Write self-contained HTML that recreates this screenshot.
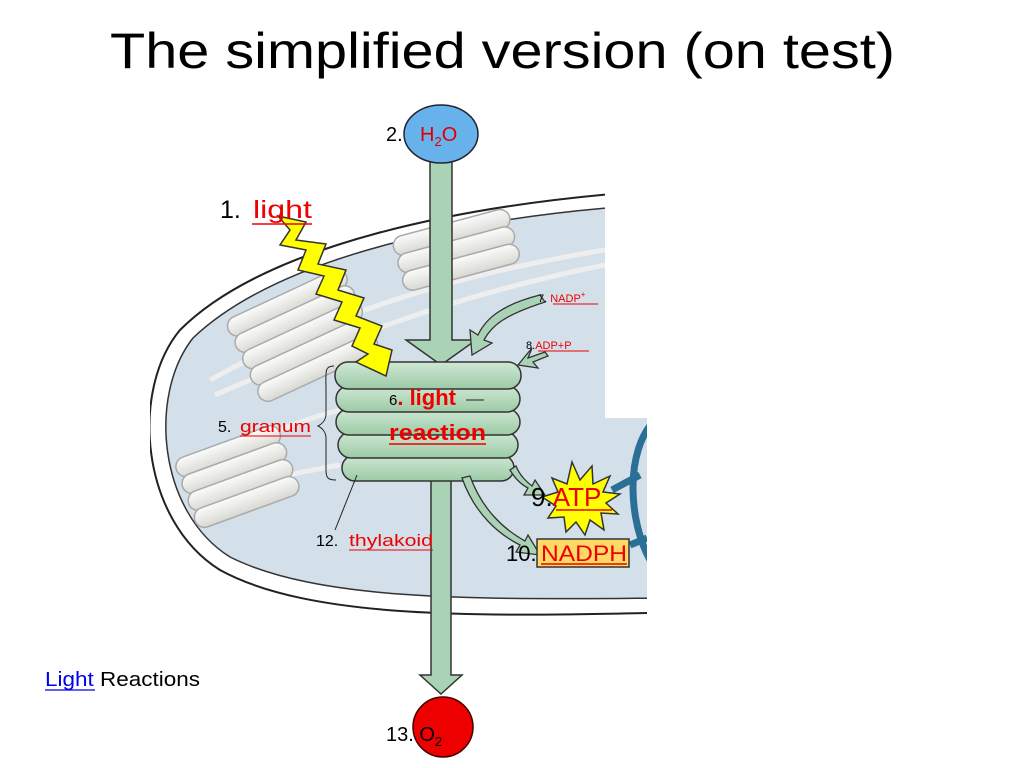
<!DOCTYPE html>
<html><head><meta charset="utf-8"><style>
body{margin:0;width:1024px;height:768px;background:#fff;overflow:hidden;font-family:"Liberation Sans",sans-serif}
svg{position:absolute;left:0;top:0}
text{font-family:"Liberation Sans",sans-serif}
</style></head><body>
<svg width="1024" height="768" viewBox="0 0 1024 768">
<defs>
<clipPath id="cp"><path d="M150 185 H605 V418 H647 V630 H150 Z"/></clipPath>
<linearGradient id="wg" x1="0" y1="0" x2="0" y2="1"><stop offset="0" stop-color="#fbfbfb"/><stop offset="1" stop-color="#d8d8d2"/></linearGradient>
<linearGradient id="gg" x1="0" y1="0" x2="0" y2="1"><stop offset="0" stop-color="#cfe8d4"/><stop offset="1" stop-color="#9ccaa6"/></linearGradient>
</defs>
<text x="110" y="68" font-size="50" fill="#000" textLength="785" lengthAdjust="spacingAndGlyphs">The simplified version (on test)</text>
<g clip-path="url(#cp)">
 <path d="M700 188 C450 200 260 250 180 330 C130 390 140 520 220 570 C320 625 520 615 700 612 V640 H140 V180 Z" fill="#fff"/>
 <path d="M700 188 C450 200 260 250 180 330 C130 390 140 520 220 570 C320 625 520 615 700 612" fill="none" stroke="#222" stroke-width="2"/>
 <path d="M700 202 C460 212 275 260 193 338 C148 395 158 512 230 557 C330 607 520 598 700 598 Z" fill="#d3e0ea" stroke="#333" stroke-width="1.5"/>
 <g stroke="#eee" stroke-width="5" fill="none">
  <path d="M210 380 C300 330 420 280 605 250"/>
  <path d="M215 395 C320 350 430 300 605 265"/>
  <path d="M190 470 C250 440 300 420 340 410"/>
  <path d="M200 500 C260 480 310 470 340 465"/>
 </g>
 <g fill="url(#wg)" stroke="#aaa" stroke-width="1.5">
  <g transform="rotate(-15 455 245)">
   <rect x="395" y="222" width="120" height="20" rx="10"/><rect x="395" y="240" width="120" height="20" rx="10"/><rect x="395" y="258" width="120" height="20" rx="10"/>
  </g>
  <g transform="rotate(-25 300 330)">
   <rect x="235" y="290" width="130" height="20" rx="10"/><rect x="235" y="308" width="130" height="20" rx="10"/><rect x="235" y="326" width="130" height="20" rx="10"/><rect x="235" y="344" width="130" height="20" rx="10"/><rect x="235" y="362" width="130" height="20" rx="10"/>
  </g>
  <g transform="rotate(-20 235 470)">
   <rect x="180" y="440" width="110" height="20" rx="10"/><rect x="180" y="458" width="110" height="20" rx="10"/><rect x="180" y="476" width="110" height="20" rx="10"/><rect x="180" y="494" width="110" height="20" rx="10"/>
  </g>
 </g>
 <path d="M655 420 C625 450 628 520 650 560" fill="none" stroke="#2a6f96" stroke-width="7"/>
 <path d="M612 490 L640 475" stroke="#2a6f96" stroke-width="7"/>
 <path d="M630 545 L647 538" stroke="#2a6f96" stroke-width="7"/>
</g>
<rect x="605" y="185" width="50" height="233" fill="#fff"/>
<path d="M430 160 H452 V340 H476 L441 365 L406 340 H430 Z" fill="#a9d3b4" stroke="#333" stroke-width="1.5"/>
<path d="M431 470 H451 V675 H462 L441 694 L420 675 H431 Z" fill="#a9d3b4" stroke="#333" stroke-width="1.5"/>
<ellipse cx="441" cy="134" rx="37" ry="29" fill="#67b2ea" stroke="#223" stroke-width="1.5"/>
<circle cx="443" cy="727" r="30" fill="#e00" stroke="#400" stroke-width="1.5"/>
<g fill="url(#gg)" stroke="#333" stroke-width="1.5">
 <rect x="342" y="455" width="172" height="26" rx="13"/>
 <rect x="338" y="432" width="180" height="26" rx="13"/>
 <rect x="336" y="409" width="184" height="26" rx="13"/>
 <rect x="336" y="386" width="184" height="26" rx="13"/>
 <rect x="335" y="362" width="186" height="27" rx="13"/>
</g>
<g fill="#a9d3b4" stroke="#333" stroke-width="1.3">
 <path d="M540 295 C500 305 485 320 478 335 L470 330 L472 355 L492 343 L484 340 C492 325 505 315 545 302 Z"/>
 <path d="M545 352 L528 358 L532 348 L518 365 L538 368 L533 362 L548 356 Z"/>
 <path d="M510 470 C516 480 522 485 528 488 L524 495 L545 495 L535 480 L532 486 C527 482 520 476 516 466 Z"/>
 <path d="M462 478 C475 515 500 535 520 545 L516 552 L540 555 L528 535 L525 541 C505 530 482 510 470 476 Z"/>
</g>
<path d="M278 216 L306 222 L296 240 L326 244 L318 264 L346 270 L338 290 L364 298 L356 316 L382 326 L374 344 L392 350 L386 376 L356 362 L368 354 L352 346 L360 328 L334 320 L342 302 L316 294 L324 276 L298 270 L306 250 L280 245 L290 230 Z" fill="#ffff00" stroke="#333" stroke-width="1.5"/>
<path d="M334 366 C324 366 326 372 326 390 V414 C326 420 322 424 318 426 C322 428 326 432 326 438 V470 C326 478 328 480 336 480" fill="none" stroke="#222" stroke-width="1"/>
<line x1="357" y1="475" x2="335" y2="530" stroke="#222" stroke-width="1"/>
<line x1="466" y1="400" x2="484" y2="400" stroke="#222" stroke-width="1"/>
<polygon points="572,462 580,480 592,466 593,484 610,476 603,492 620,494 606,503 618,514 601,513 604,530 590,520 585,535 576,522 566,532 564,517 548,518 556,506 542,497 558,492 552,478 567,484" fill="#ffff00" stroke="#333" stroke-width="1.5"/>
<rect x="537" y="539" width="92" height="28" fill="#ffd966" stroke="#333" stroke-width="1.5"/>
<text x="386" y="141" font-size="20">2.</text>
<text x="420" y="141" font-size="20" fill="#d00">H<tspan font-size="13" dy="5">2</tspan><tspan dy="-5">O</tspan></text>
<text x="220" y="218" font-size="25">1.</text>
<text x="253" y="218" font-size="25" fill="#e00" textLength="59" lengthAdjust="spacingAndGlyphs">light</text>
<line x1="252" y1="224" x2="312" y2="224" stroke="#e00" stroke-width="1.5"/>
<text x="538" y="302" font-size="11">7. <tspan fill="#e00">NADP</tspan><tspan font-size="8" dy="-5" fill="#e00">+</tspan></text>
<line x1="553" y1="304" x2="598" y2="304" stroke="#e00"/>
<text x="526" y="349" font-size="11">8.<tspan fill="#e00">ADP+P</tspan></text>
<line x1="538" y1="351" x2="589" y2="351" stroke="#e00"/>
<text x="389" y="405" font-size="15">6<tspan font-weight="bold" font-size="22" fill="#e00">. light</tspan></text>
<text x="389" y="440" font-size="22" font-weight="bold" fill="#e00" textLength="97" lengthAdjust="spacingAndGlyphs">reaction</text>
<line x1="389" y1="444" x2="486" y2="444" stroke="#e00" stroke-width="1.5"/>
<text x="218" y="432" font-size="16">5.</text>
<text x="240" y="432" font-size="17" fill="#e00" textLength="71" lengthAdjust="spacingAndGlyphs">granum</text>
<line x1="240" y1="436" x2="311" y2="436" stroke="#e00"/>
<text x="316" y="546" font-size="16">12.</text>
<text x="349" y="546" font-size="17" fill="#e00" textLength="84" lengthAdjust="spacingAndGlyphs">thylakoid</text>
<line x1="349" y1="550" x2="433" y2="550" stroke="#e00"/>
<text x="531" y="506" font-size="26">9.<tspan fill="#e00">ATP</tspan></text>
<line x1="556" y1="510" x2="612" y2="510" stroke="#e00" stroke-width="1.5"/>
<text x="506" y="561" font-size="22">10.</text>
<text x="541" y="561" font-size="22" fill="#e00" textLength="86" lengthAdjust="spacingAndGlyphs">NADPH</text>
<line x1="541" y1="564" x2="627" y2="564" stroke="#e00" stroke-width="1.5"/>
<text x="45" y="686" font-size="20" textLength="155" lengthAdjust="spacingAndGlyphs"><tspan fill="#00e">Light</tspan> Reactions</text>
<line x1="45" y1="690" x2="95" y2="690" stroke="#00e" stroke-width="1.3"/>
<text x="386" y="741" font-size="20">13. O<tspan font-size="13" dy="5">2</tspan></text>
</svg>
</body></html>
